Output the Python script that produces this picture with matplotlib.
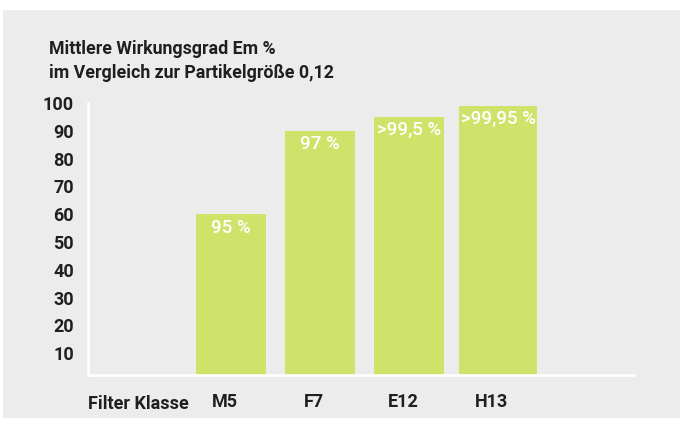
import matplotlib
matplotlib.use("Agg")
import matplotlib.pyplot as plt
from matplotlib.patches import Rectangle
from matplotlib import font_manager

# ---- data ----
categories = ["M5", "F7", "E12", "H13"]
values = [60, 90, 95, 99]
bar_labels = ["95 %", "97 %", ">99,5 %", ">99,95 %"]
yticks = [10, 20, 30, 40, 50, 60, 70, 80, 90, 100]
title = "Mittlere Wirkungsgrad Em %\nim Vergleich zur Partikelgröße 0,12"
xlabel = "Filter Klasse"

names = {f.name for f in font_manager.fontManager.ttflist}
fam = "Liberation Sans Narrow" if "Liberation Sans Narrow" in names else "Roboto"
plt.rcParams["font.family"] = [fam, "DejaVu Sans"]

BG = "#ebeceb"
GREEN = "#cfe36b"
DARK = "#1f1f1f"

W, H = 683, 422
fig = plt.figure(figsize=(W / 100, H / 100), dpi=100, facecolor="white")
fig.patches.append(Rectangle((3 / W, 1 - 418 / H), 677 / W, 408 / H,
                             transform=fig.transFigure, facecolor=BG,
                             edgecolor="none", zorder=-5))

ax = fig.add_axes([88 / W, 1 - 375 / H, (634 - 88) / W, (375 - 103) / H])
ax.set_zorder(2)
ax.set_facecolor("none")

x = list(range(len(categories)))
widths = [0.79, 0.79, 0.79, 0.87]
ax.bar(x, values, width=widths, color=GREEN, zorder=1)
for xi, v, lab in zip(x, values, bar_labels):
    ax.text(xi, v - 1.6, lab, ha="center", va="top", color="white",
            fontsize=13.5, fontweight="medium", zorder=3)

ax.set_xlim(-1.607, 4.528)
ax.set_ylim(2.2, 100)

for s in ["top", "right"]:
    ax.spines[s].set_visible(False)
for s in ["left", "bottom"]:
    ax.spines[s].set_color("white")
    ax.spines[s].set_linewidth(1.9)
    ax.spines[s].set_zorder(4)
    ax.spines[s].set_capstyle("projecting")

ax.set_yticks(yticks)
ax.set_yticklabels([str(t) for t in yticks], fontsize=13, fontweight="bold", color=DARK)
ax.tick_params(axis="y", length=0, pad=10)
ax.set_xticks([xi - 0.07 for xi in x])
ax.set_xticklabels(categories, fontsize=13, fontweight="bold", color=DARK)
ax.tick_params(axis="x", length=0, pad=13)

fig.text(88 / W, 1 - 404 / H, xlabel, ha="left", va="center",
         fontsize=13, fontweight="bold", color=DARK)
fig.text(49 / W, 1 - 40 / H, title, ha="left", va="top", fontsize=12.8,
         fontweight="bold", color=DARK, linespacing=1.45)

fig.savefig("out.png", dpi=100, facecolor="white")
